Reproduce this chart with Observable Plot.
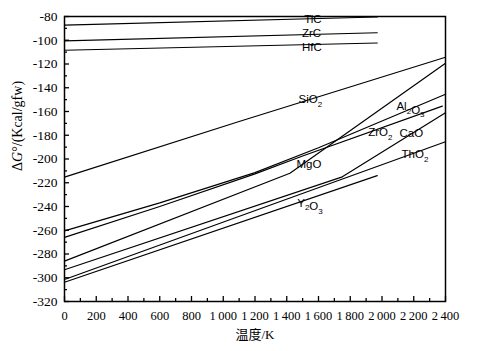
<!DOCTYPE html>
<html><head><meta charset="utf-8">
<script src="https://cdn.jsdelivr.net/npm/d3@7"></script>
<script src="https://cdn.jsdelivr.net/npm/@observablehq/plot@0.6"></script>
<style>body{margin:0;background:#fff}svg{display:block}</style>
</head><body><div id="chart"></div>
<script>
// Temperature (K) and ΔG° (Kcal/gfw) per compound
const TiC_T = [0, 1970],  TiC_G = [-87.3, -80.4];
const ZrC_T = [0, 1970],  ZrC_G = [-100.5, -93.7];
const HfC_T = [0, 1970],  HfC_G = [-108.4, -102.3];
const SiO2_T = [0, 1100, 2400], SiO2_G = [-215.3, -168.4, -114.3];
const Al2O3_T = [0, 600, 1200, 1600, 2400], Al2O3_G = [-260.5, -237, -211.5, -190.5, -145.5];
const ZrO2_T = [0, 600, 1200, 1500, 2380], ZrO2_G = [-266, -240, -212.5, -197.5, -155.5];
const MgO_T = [0, 1420, 2400], MgO_G = [-286, -212, -119.3];
const CaO_T = [0, 1750, 2400], CaO_G = [-293.3, -215, -161];
const ThO2_T = [0, 2400], ThO2_G = [-301.5, -185.5];
const Y2O3_T = [0, 1970], Y2O3_G = [-303.8, -214];

const seriesNames = ["TiC","ZrC","HfC","SiO2","Al2O3","ZrO2","MgO","CaO","ThO2","Y2O3"];
const seriesT = [TiC_T, ZrC_T, HfC_T, SiO2_T, Al2O3_T, ZrO2_T, MgO_T, CaO_T, ThO2_T, Y2O3_T];
const seriesG = [TiC_G, ZrC_G, HfC_G, SiO2_G, Al2O3_G, ZrO2_G, MgO_G, CaO_G, ThO2_G, Y2O3_G];

// Label placement (in data units)
const labelNames = ["TiC","ZrC","HfC","SiO2","Al2O3","ZrO2","CaO","ThO2","MgO","Y2O3"];
const labelT = [1510, 1496, 1496, 1474, 2091, 1913, 2110, 2123, 1461, 1466];
const labelG = [-82.5, -93.9, -105.7, -149.9, -155.8, -177.7, -178.1, -196.2, -204.1, -237.1];

const xTicks = d3.range(0, 2401, 200);
const xMinor = d3.range(100, 2400, 200);
const yTicks = d3.range(-320, -79, 20);
const yMinor = d3.range(-310, -80, 20);
const yTitle = "ΔG°/(Kcal/gfw)";
const xTitle = "温度/K";

const rows = [];
seriesNames.forEach((n, s) => seriesT[s].forEach((t, i) => rows.push({name: n, T: t, G: seriesG[s][i]})));
const labels = labelNames.map((n, i) => ({name: n, T: labelT[i], G: labelG[i]}));

const fmtX = d => d >= 1000 ? Math.floor(d / 1000) + "\u2009" + String(d % 1000).padStart(3, "0") : String(d);

const chart = Plot.plot({
  width: 479, height: 351,
  marginLeft: 64, marginRight: 34, marginTop: 16, marginBottom: 50,
  x: {domain: [0, 2400]},
  y: {domain: [-320, -80]},
  style: {fontFamily: "'Liberation Serif', 'Noto Sans CJK SC', serif", fontSize: "13px", color: "#000", background: "#fff"},
  marks: [
    Plot.line(rows, {x: "T", y: "G", z: "name", stroke: "#000", strokeWidth: 1.2}),
    Plot.ruleX(xTicks, {x: d => d, y1: -320, y2: -320, insetTop: -5, stroke: "#000", strokeWidth: 1.3}),
    Plot.ruleX(xMinor, {x: d => d, y1: -320, y2: -320, insetTop: -3, stroke: "#000", strokeWidth: 1.3}),
    Plot.ruleY(yTicks, {y: d => d, x1: 0, x2: 0, insetRight: -5, stroke: "#000", strokeWidth: 1.3}),
    Plot.ruleY(yMinor, {y: d => d, x1: 0, x2: 0, insetRight: -3, stroke: "#000", strokeWidth: 1.3}),
    Plot.axisX({ticks: xTicks, tickSize: 0, tickPadding: 10, tickFormat: fmtX, fontSize: 12.5, label: null}),
    Plot.axisY({ticks: yTicks, tickSize: 0, tickPadding: 7, tickFormat: d => String(d), fontSize: 13.5, label: null}),
    Plot.frame({stroke: "#000", strokeWidth: 1.5}),
    Plot.text(labels, {x: "T", y: "G", text: "name", textAnchor: "start", fontFamily: "'Liberation Sans', Arial, sans-serif", fontSize: 11.5}),
    Plot.text([yTitle], {text: d => d, frameAnchor: "left", rotate: -90, dx: -47, dy: 12, fontSize: 14}),
    Plot.text([xTitle], {text: d => d, frameAnchor: "bottom", dy: 37, fontSize: 13})
  ]
});
document.getElementById("chart").appendChild(chart);

// Subscripts for chemical formulas, italic G in the title
d3.select(chart).selectAll("text").each(function() {
  const el = d3.select(this);
  const t = this.textContent;
  if (labelNames.includes(t) && /\d/.test(t)) {
    el.text(null);
    const parts = t.split(/(\d)/).filter(p => p.length);
    parts.forEach(p => {
      if (/\d/.test(p)) {
        el.append("tspan").attr("dy", 3.5).attr("font-size", 8).text(p);
        el.append("tspan").attr("dy", -3.5).text("");
      } else {
        el.append("tspan").text(p);
      }
    });
  } else if (t === yTitle) {
    el.text(null);
    el.append("tspan").text("Δ");
    el.append("tspan").attr("font-style", "italic").text("G");
    el.append("tspan").text("°/(Kcal/gfw)");
  }
});
</script>
</body></html>
